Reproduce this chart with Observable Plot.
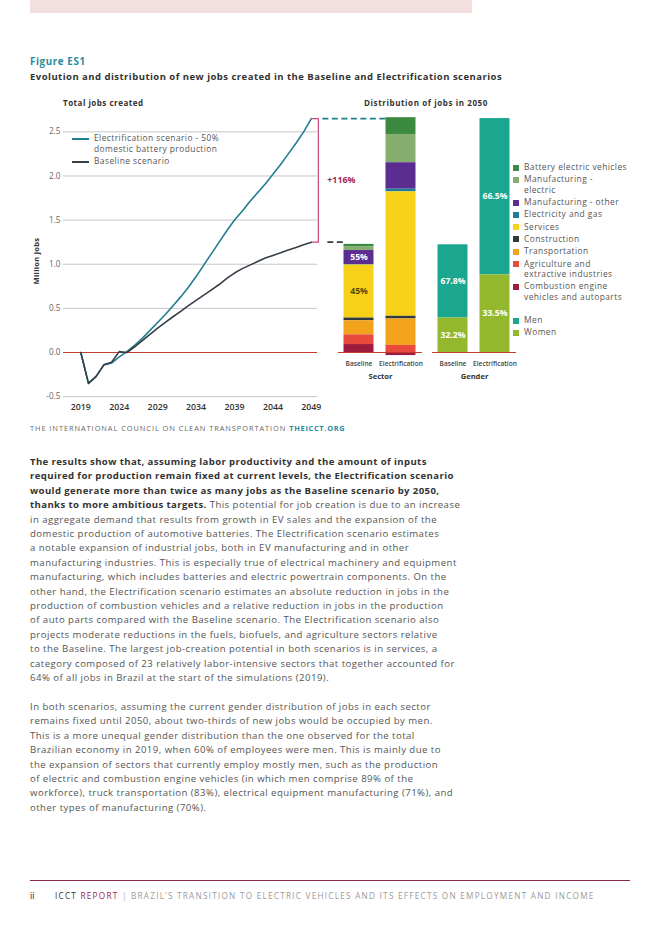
<!DOCTYPE html>
<html><head><meta charset="utf-8">
<script src="https://cdn.jsdelivr.net/npm/d3@7"></script>
<script src="https://cdn.jsdelivr.net/npm/@observablehq/plot@0.6"></script>
<style>
body{margin:0;background:#fff;}
#page{position:relative;width:662px;height:936px;overflow:hidden;font-family:"Open Sans",sans-serif;background:#fff;}
.abs{position:absolute;white-space:nowrap;}
#plotA,#plotB{position:absolute;left:0;top:110px;}
.sw{display:inline-block;width:6px;height:6px;margin-right:5px;vertical-align:top;margin-top:2.5px;flex:none;}
.leg{position:absolute;left:513px;top:162px;font-size:8.4px;letter-spacing:0.45px;color:#555;line-height:10.5px;}
.leg .it{display:flex;margin-bottom:1.8px;}
.body{position:absolute;left:30px;font-size:9.6px;letter-spacing:0.46px;line-height:14.4px;color:#555;white-space:nowrap;}
.body b{color:#333;font-weight:700;letter-spacing:0.38px;}
</style></head><body><div id="page">
<div class="abs" style="left:30px;top:0;width:442px;height:13px;background:#f3dfe0;"></div>
<div class="abs" style="left:30px;top:55px;font-size:9.8px;letter-spacing:0.6px;font-weight:700;color:#2a8aa0;">Figure ES1</div>
<div class="abs" style="left:30px;top:70px;font-size:9.5px;letter-spacing:0.47px;font-weight:700;color:#333;">Evolution and distribution of new jobs created in the Baseline and Electrification scenarios</div>
<div class="abs" style="left:63px;top:97px;font-size:8px;letter-spacing:0.5px;font-weight:700;color:#333;">Total jobs created</div>
<div class="abs" style="left:364px;top:97px;font-size:8px;letter-spacing:0.6px;font-weight:700;color:#333;">Distribution of jobs in 2050</div>
<div id="plotA"></div>
<div id="plotB"></div>
<div class="abs" style="left:6px;top:256px;width:60px;text-align:center;transform:rotate(-90deg);font-size:7.5px;letter-spacing:0.3px;font-weight:700;color:#333;">Million jobs</div>
<div class="abs" style="left:72px;top:133px;font-size:8.4px;letter-spacing:0.45px;line-height:10.8px;color:#555;">
 <div style="display:flex;"><span style="display:inline-block;width:17px;height:2px;background:#1f7f8e;margin-top:5px;margin-right:5px;"></span><span>Electrification scenario - 50%<br>domestic battery production</span></div>
 <div style="display:flex;margin-top:1px;"><span style="display:inline-block;width:17px;height:2px;background:#353e47;margin-top:5px;margin-right:5px;"></span><span>Baseline scenario</span></div>
</div>
<div class="leg" id="legend"></div>
<div class="abs" style="left:30px;top:423px;font-size:7.4px;color:#666;letter-spacing:0.95px;">THE INTERNATIONAL COUNCIL ON CLEAN TRANSPORTATION <b style="color:#2a8aa0;letter-spacing:0.7px;">THEICCT.ORG</b></div>
<div class="body" style="top:455px;"><b>The results show that, assuming labor productivity and the amount of inputs<br>required for production remain fixed at current levels, the Electrification scenario<br>would generate more than twice as many jobs as the Baseline scenario by 2050,<br>thanks to more ambitious targets.</b> This potential for job creation is due to an increase<br>in aggregate demand that results from growth in EV sales and the expansion of the<br>domestic production of automotive batteries. The Electrification scenario estimates<br>a notable expansion of industrial jobs, both in EV manufacturing and in other<br>manufacturing industries. This is especially true of electrical machinery and equipment<br>manufacturing, which includes batteries and electric powertrain components. On the<br>other hand, the Electrification scenario estimates an absolute reduction in jobs in the<br>production of combustion vehicles and a relative reduction in jobs in the production<br>of auto parts compared with the Baseline scenario. The Electrification scenario also<br>projects moderate reductions in the fuels, biofuels, and agriculture sectors relative<br>to the Baseline. The largest job-creation potential in both scenarios is in services, a<br>category composed of 23 relatively labor-intensive sectors that together accounted for<br>64% of all jobs in Brazil at the start of the simulations (2019).</div>
<div class="body" style="top:700px;">In both scenarios, assuming the current gender distribution of jobs in each sector<br>remains fixed until 2050, about two-thirds of new jobs would be occupied by men.<br>This is a more unequal gender distribution than the one observed for the total<br>Brazilian economy in 2019, when 60% of employees were men. This is mainly due to<br>the expansion of sectors that currently employ mostly men, such as the production<br>of electric and combustion engine vehicles (in which men comprise 89% of the<br>workforce), truck transportation (83%), electrical equipment manufacturing (71%), and<br>other types of manufacturing (70%).</div>
<div class="abs" style="left:30px;top:880px;width:600px;height:1px;background:#8c2a4b;"></div>
<div class="abs" style="left:30px;top:890px;font-size:8.2px;font-weight:600;color:#a0234d;">ii</div>
<div class="abs" style="left:55px;top:890px;font-size:8.2px;color:#9a9a9a;letter-spacing:1.25px;"><span style="color:#333;">ICCT</span> <span style="color:#a0234d;">REPORT</span> <span style="color:#aaa;">|</span> BRAZIL’S TRANSITION TO ELECTRIC VEHICLES AND ITS EFFECTS ON EMPLOYMENT AND INCOME</div>
</div>
<script>
// ---------- DATA ----------
const years = [2019,2020,2021,2022,2023,2024,2025,2026,2027,2028,2029,2030,2031,2032,2033,2034,2035,2036,2037,2038,2039,2040,2041,2042,2043,2044,2045,2046,2047,2048,2049];
const baselineJobs = [0,-0.35,-0.27,-0.14,-0.11,0.01,0.00,0.065,0.135,0.205,0.275,0.34,0.405,0.465,0.53,0.59,0.65,0.71,0.77,0.84,0.90,0.95,0.99,1.03,1.07,1.10,1.13,1.16,1.19,1.22,1.25];
const electrificationJobs = [0,-0.35,-0.27,-0.14,-0.12,-0.05,0.01,0.08,0.16,0.25,0.34,0.43,0.53,0.63,0.74,0.86,0.99,1.12,1.25,1.38,1.50,1.60,1.71,1.81,1.91,2.02,2.13,2.25,2.37,2.50,2.65];
const xTicks = [2019,2024,2029,2034,2039,2044,2049];
const yTicks = [-0.5,0,0.5,1,1.5,2,2.5];
const increaseLabel = "+116%";

const sectors = ["Battery electric vehicles","Manufacturing - electric","Manufacturing - other","Electricity and gas","Services","Construction","Transportation","Agriculture and extractive industries","Combustion engine vehicles and autoparts"];
const sectorLegend = ["Battery electric vehicles","Manufacturing -<br>electric","Manufacturing - other","Electricity and gas","Services","Construction","Transportation","Agriculture and<br>extractive industries","Combustion engine<br>vehicles and autoparts"];
const sectorColors = ["#3b8a3f","#86ae6f","#5c2d91","#1b7f9c","#f7d117","#2f3a3b","#f2a31b","#e84a3d","#9e1b3d"];
const sectorBaseline = [0.03,0.04,0.16,0.005,0.60,0.03,0.16,0.11,0.09];
const sectorElectrification = [0.19,0.32,0.30,0.03,1.41,0.03,0.30,0.08,-0.035];
const sectorBaselineLabels = ["","","55%","","45%","","","",""];
const sectorLabelColors = ["","","#fff","","#5a4a10","","","",""];

const genders = ["Men","Women"];
const genderColors = ["#1aa68f","#94b82d"];
const genderBaseline = [0.83,0.39];
const genderElectrification = [1.77,0.88];
const genderBaselineLabels = ["67.8%","32.2%"];
const genderElectrificationLabels = ["66.5%","33.5%"];

const scenarios = ["Baseline","Electrification"];
const groups = ["Sector","Gender"];

// ---------- LAYOUT ----------
const W = 662, SVG_TOP = 110;
const Y_MAX = 2.66, Y_MIN_A = -0.5, Y_MIN_B = -0.06;
const TOP_PX = 117.2, ZERO_PX = 352;
const PPU = (ZERO_PX - TOP_PX) / Y_MAX;
const MT = TOP_PX - SVG_TOP;
const A_ML = 63, A_MR = W - 317, A_MB = 24;
const X_DOMAIN = [2016.75, 2049.8];
const B_ML = 337.5, B_MR = W - 515.5, B_MB = 32;
const font = {background:"transparent", fontFamily:"Open Sans, sans-serif", fontSize:"8px", overflow:"visible"};

// ---------- TABLES ----------
const baseRows = years.map((y,i)=>({year:y, value:baselineJobs[i]}));
const elecRows = years.map((y,i)=>({year:y, value:electrificationJobs[i]}));
const sectorRows = [];
sectors.forEach((s,i)=>{
  sectorRows.push({group:"Sector", scenario:"Baseline", cat:s, value:sectorBaseline[i], label:sectorBaselineLabels[i], lc:sectorLabelColors[i]});
  sectorRows.push({group:"Sector", scenario:"Electrification", cat:s, value:sectorElectrification[i], label:"", lc:""});
});
genders.forEach((g,i)=>{
  sectorRows.push({group:"Gender", scenario:"Baseline", cat:g, value:genderBaseline[i], label:genderBaselineLabels[i], lc:"#fff"});
  sectorRows.push({group:"Gender", scenario:"Electrification", cat:g, value:genderElectrification[i], label:genderElectrificationLabels[i], lc:"#fff"});
});
const stackOrder = [...sectors].reverse().concat(["Women","Men"]);

// ---------- BARS (Plot B) ----------
const hB = MT + (Y_MAX - Y_MIN_B) * PPU + B_MB;
const stk = {order: stackOrder};
const plotB = Plot.plot({
  width: W, height: hB, marginLeft: B_ML, marginRight: B_MR, marginTop: MT, marginBottom: B_MB,
  style: font,
  fx: {domain: groups, paddingInner: 0.11, paddingOuter: 0, label: null},
  x: {domain: scenarios, paddingInner: 0.28, paddingOuter: 0.12, label: null},
  y: {domain: [Y_MIN_B, Y_MAX], axis: null},
  color: {domain: sectors.concat(genders), range: sectorColors.concat(genderColors)},
  marks: [
    Plot.barY(sectorRows, Plot.stackY(stk, {fx:"group", x:"scenario", y:"value", z:"cat", fill:"cat"})),
    Plot.ruleY([0], {stroke:"#c4392f", strokeWidth:1}),
    Plot.text(sectorRows, Plot.stackY(stk, {fx:"group", x:"scenario", y:"value", z:"cat", text: d => d.lc === "#fff" ? d.label : "", fill:"#fff", fontWeight:"bold", fontSize:8.6})),
    Plot.text(sectorRows, Plot.stackY(stk, {fx:"group", x:"scenario", y:"value", z:"cat", text: d => d.lc !== "#fff" ? d.label : "", fill:"#5a4a10", fontWeight:"bold", fontSize:8.6})),
    Plot.axisX({tickSize:0, tickPadding:4, fontSize:6.6, fontWeight:600, fill:"#444", label:null}),
    Plot.axisFx({anchor:"bottom", tickSize:0, tickPadding:15.5, fontSize:7.6, fontWeight:"bold", fill:"#333", label:null})
  ]
});
document.getElementById("plotB").appendChild(plotB);

// positions of bar edges from the bar plot's own scales
const fxS = plotB.scale("fx"), xS = plotB.scale("x");
function barLeft(g, s){
  const off = xS.apply(s);
  return (xS.range && xS.range[0] > 100) ? off : fxS.apply(g) + off;
}
const xA = Plot.scale({x: {domain: X_DOMAIN, range: [A_ML, W - A_MR]}});
const lastYear = years[years.length-1];
const baseEnd = baselineJobs[baselineJobs.length-1];
const elecEnd = electrificationJobs[electrificationJobs.length-1];
const endPx = xA.apply(lastYear);
const yr = px => xA.invert(px);
const bracketX = yr(endPx + 7), capX = yr(endPx + 1), dashX = yr(endPx + 11);
const bracket = [{x:capX,y:elecEnd},{x:bracketX,y:elecEnd},{x:bracketX,y:baseEnd},{x:capX,y:baseEnd}];
const links = [
  {x1: dashX, x2: yr(barLeft("Sector","Electrification")), y: elecEnd, c:"#1f7f8e"},
  {x1: yr(endPx + 16), x2: yr(barLeft("Sector","Baseline")), y: baseEnd, c:"#353e47"}
];

// ---------- LINES (Plot A) ----------
const hA = MT + (Y_MAX - Y_MIN_A) * PPU + A_MB;
const plotA = Plot.plot({
  width: W, height: hA, marginLeft: A_ML, marginRight: A_MR, marginTop: MT, marginBottom: A_MB,
  style: font,
  x: {domain: X_DOMAIN, axis: null},
  y: {domain: [Y_MIN_A, Y_MAX], axis: null},
  marks: [
    Plot.gridY({ticks: yTicks, stroke:"#c6c6c6", strokeOpacity:1}),
    Plot.axisY({ticks: yTicks, tickSize:0, tickPadding:3, tickFormat: d => d.toFixed(1), fill:"#666", fontSize:8.2, label:null}),
    Plot.axisX({ticks: xTicks, tickSize:0, tickPadding:7, tickFormat: d => String(d), fill:"#333", fontSize:8.8, fontWeight:600, label:null}),
    Plot.ruleY([0], {stroke:"#c4392f", strokeWidth:1}),
    Plot.lineY(elecRows, {x:"year", y:"value", stroke:"#1f7f8e", strokeWidth:1.6}),
    Plot.lineY(baseRows, {x:"year", y:"value", stroke:"#353e47", strokeWidth:1.6}),
    Plot.line(bracket, {x:"x", y:"y", stroke:"#c8457a", strokeWidth:1.2}),
    Plot.link(links, {x1:"x1", x2:"x2", y1:"y", y2:"y", stroke:"c", strokeWidth:1.6, strokeDasharray:"6,3.5"}),
    Plot.text([increaseLabel], {x: lastYear, y: (baseEnd + elecEnd)/2, text: d => d, dx: 16, textAnchor:"start", fill:"#a1244d", fontWeight:"bold", fontSize:8.8})
  ]
});
document.getElementById("plotA").appendChild(plotA);

// ---------- LEGEND ----------
const leg = document.getElementById("legend");
sectors.forEach((s,i)=>{
  leg.insertAdjacentHTML("beforeend", `<div class="it"><span class="sw" style="background:${sectorColors[i]}"></span><span>${sectorLegend[i]}</span></div>`);
});
leg.insertAdjacentHTML("beforeend", `<div style="height:11px"></div>`);
genders.forEach((g,i)=>{
  leg.insertAdjacentHTML("beforeend", `<div class="it"><span class="sw" style="background:${genderColors[i]}"></span><span>${g}</span></div>`);
});
</script>
</body></html>
